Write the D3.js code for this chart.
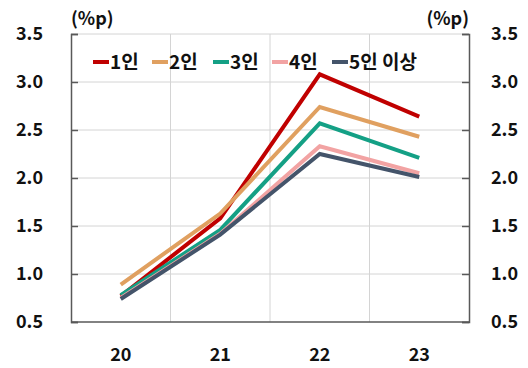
<!DOCTYPE html>
<html>
<head>
<meta charset="utf-8">
<script src="https://cdn.jsdelivr.net/npm/d3@7"></script>
<style>
  html, body { margin: 0; padding: 0; background: #fff; }
  svg { display: block; font-family: "Noto Sans CJK KR", "Noto Sans", sans-serif; }
</style>
</head>
<body>
<svg id="chart" width="528" height="368"></svg>
<script>
// Years on the x axis
const categories = ["20", "21", "22", "23"];

// Series: household size
const seriesNames = ["1인", "2인", "3인", "4인", "5인 이상"];
const seriesColors = ["#c00000", "#e0a060", "#14a085", "#f2a3a3", "#44546a"];

const values1 = [0.77, 1.58, 3.08, 2.64];
const values2 = [0.89, 1.63, 2.74, 2.43];
const values3 = [0.78, 1.46, 2.57, 2.21];
const values4 = [0.75, 1.42, 2.33, 2.05];
const values5 = [0.74, 1.41, 2.25, 2.01];
const seriesValues = [values1, values2, values3, values4, values5];

const yTicks = [0.5, 1.0, 1.5, 2.0, 2.5, 3.0, 3.5];
const unitLabel = "(%p)";

const svg = d3.select("#chart");
const plotLeft = 71, plotRight = 469, plotTop = 34, plotBottom = 322;

const x = d3.scaleBand().domain(categories).range([plotLeft, plotRight]);
const y = d3.scaleLinear().domain([0.5, 3.5]).range([plotBottom, plotTop]);

// Horizontal grid lines
svg.append("g").selectAll("line")
  .data(yTicks.slice(1))
  .join("line")
  .attr("x1", plotLeft).attr("x2", plotRight)
  .attr("y1", d => y(d)).attr("y2", d => y(d))
  .attr("stroke", "#d4d4d4").attr("stroke-width", 1);

// Vertical grid lines at category boundaries
svg.append("g").selectAll("line")
  .data(categories.slice(1))
  .join("line")
  .attr("x1", d => x(d)).attr("x2", d => x(d))
  .attr("y1", plotTop).attr("y2", plotBottom)
  .attr("stroke", "#d4d4d4").attr("stroke-width", 1);

// Axes
const axisColor = "#595959";
const leftAxis = svg.append("g")
  .attr("transform", `translate(${plotLeft},0)`)
  .call(d3.axisRight(y).tickValues(yTicks).tickSize(7).tickFormat(""));
const rightAxis = svg.append("g")
  .attr("transform", `translate(${plotRight},0)`)
  .call(d3.axisLeft(y).tickValues(yTicks).tickSize(7).tickFormat(""));
[leftAxis, rightAxis].forEach(g => {
  g.select(".domain").attr("stroke", axisColor).attr("stroke-width", 1.5);
  g.selectAll(".tick line").attr("stroke", axisColor).attr("stroke-width", 1.5);
});
svg.append("line")
  .attr("x1", plotLeft).attr("x2", plotRight)
  .attr("y1", plotBottom).attr("y2", plotBottom)
  .attr("stroke", axisColor).attr("stroke-width", 1.5);

// Tick labels
const labelStyle = (sel, size) => sel
  .attr("font-size", size).attr("font-weight", "bold").attr("fill", "#111");

svg.append("g").selectAll("text")
  .data(yTicks).join("text")
  .attr("x", 43).attr("y", d => y(d)).attr("dy", "0.36em")
  .attr("text-anchor", "end")
  .text(d => d.toFixed(1))
  .call(labelStyle, 18);

svg.append("g").selectAll("text")
  .data(yTicks).join("text")
  .attr("x", 491).attr("y", d => y(d)).attr("dy", "0.36em")
  .attr("text-anchor", "start")
  .text(d => d.toFixed(1))
  .call(labelStyle, 18);

svg.append("g").selectAll("text")
  .data(categories).join("text")
  .attr("x", d => x(d) + x.bandwidth() / 2).attr("y", 355).attr("dy", "0.36em")
  .attr("text-anchor", "middle")
  .text(d => d)
  .call(labelStyle, 18);

// Unit labels
svg.append("text").attr("x", 71).attr("y", 19).attr("dy", "0.36em")
  .attr("text-anchor", "start").text(unitLabel).call(labelStyle, 18);
svg.append("text").attr("x", 469).attr("y", 19).attr("dy", "0.36em")
  .attr("text-anchor", "end").text(unitLabel).call(labelStyle, 18);

// Series lines, in series order (later series drawn over earlier ones)
const line = d3.line()
  .x((d, i) => x(categories[i]) + x.bandwidth() / 2)
  .y(d => y(d));

svg.append("g").selectAll("path")
  .data(seriesValues.map((v, i) => ({ v, i })))
  .join("path")
  .attr("d", d => line(d.v))
  .attr("fill", "none")
  .attr("stroke", d => seriesColors[d.i])
  .attr("stroke-width", 4)
  .attr("stroke-linejoin", "miter");

// Legend
const legendX = [93, 152, 213, 272, 332];
const legend = svg.append("g").selectAll("g")
  .data(seriesNames).join("g")
  .attr("transform", (d, i) => `translate(${legendX[i]},62)`);
legend.append("line")
  .attr("x1", 0).attr("x2", 16).attr("y1", 0).attr("y2", 0)
  .attr("stroke", (d, i) => seriesColors[i]).attr("stroke-width", 4);
legend.append("text")
  .attr("x", 17).attr("y", 0).attr("dy", "0.36em")
  .text(d => d)
  .style("white-space", "pre")
  .call(labelStyle, 19);
</script>
</body>
</html>
